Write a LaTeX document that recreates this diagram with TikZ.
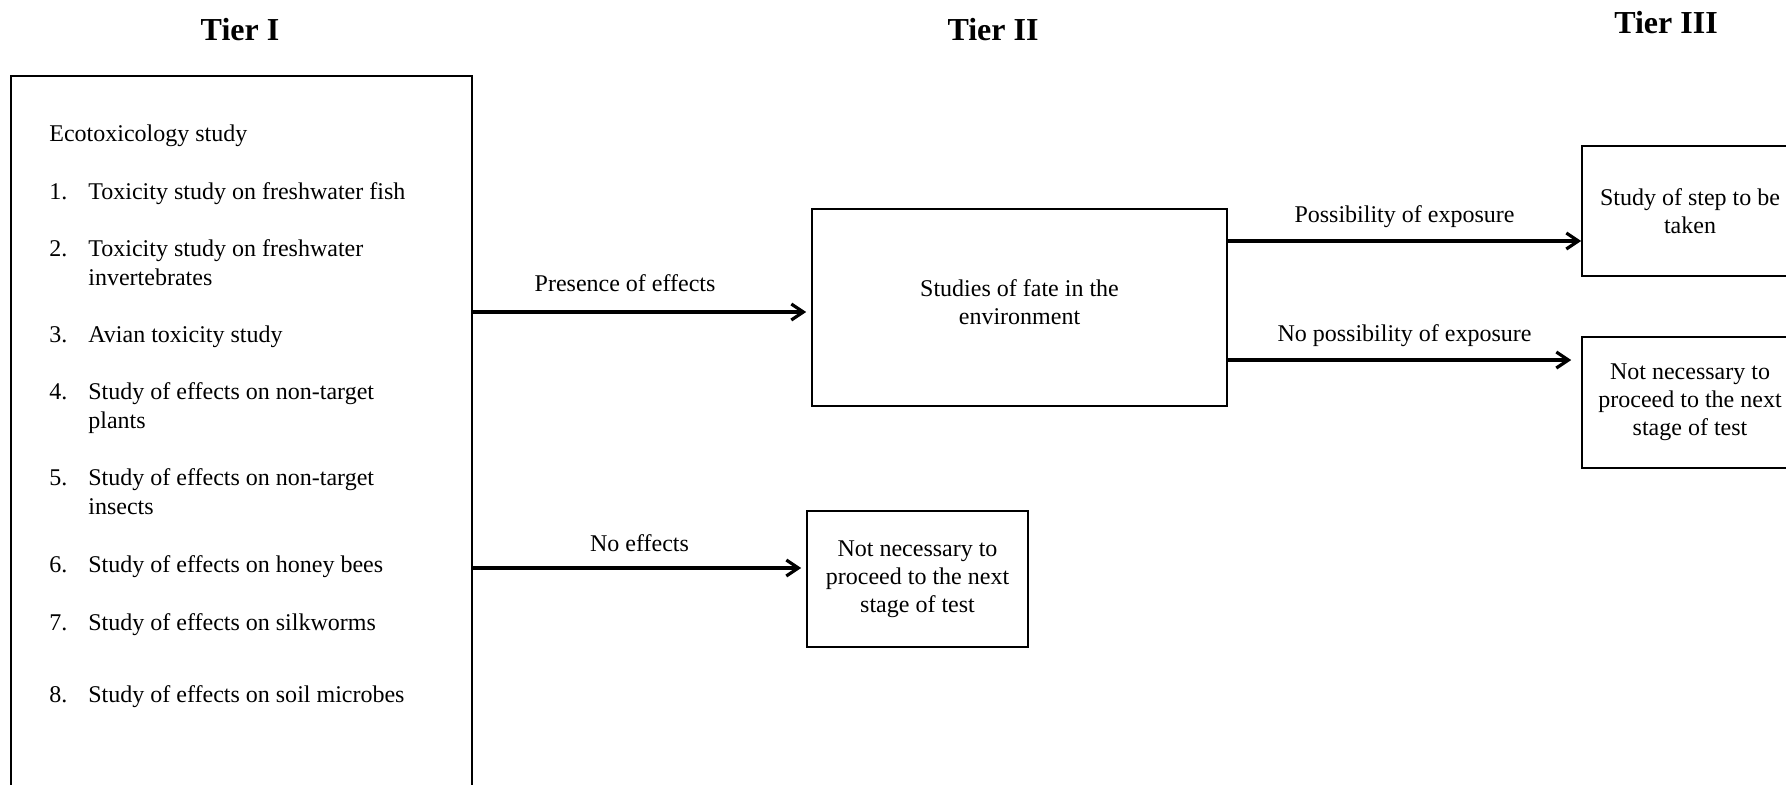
\documentclass[tikz,border=0pt]{standalone}
\usepackage{fontspec}
\setmainfont{Liberation Serif}
\usetikzlibrary{arrows.meta, positioning}

\begin{document}
\begin{tikzpicture}[
  x=0.5pt, y=-0.5pt,
  font=\fontsize{12}{14}\selectfont,
  tier/.style={font=\fontsize{16}{19}\selectfont\bfseries, anchor=base, inner sep=0pt},
  stage/.style={draw, line width=0.8pt, align=center, inner sep=0pt},
  entry/.style={anchor=base west, align=left, inner sep=0pt,
                font=\fontsize{12}{14.5}\selectfont},
  arr/.style={-{Straight Barb[length=6pt, width=8pt]}, line width=1.6pt},
  lbl/.style={above=8.5pt, inner sep=0pt, text depth=0pt}
]
\useasboundingbox (0,0) rectangle (1786,784);

%% ---- Tier headings ----
\node[tier] (tierone)   at (240,40)  {Tier I};
\node[tier] (tiertwo)   at (993,40)  {Tier II};
\node[tier] (tierthree) at (1666,33) {Tier III};

%% ---- Tier I: ecotoxicology tests ----
% two-line entries sit on the baseline of their last line
\node[stage, minimum width=230.5pt, minimum height=372pt] (eco) at (241.5,448) {};
\node[entry] (ecohead) at (49,141) {Ecotoxicology study};
\node[entry] (n1) at (49,199) {1.};
\node[entry] (s1) at (88,199) {Toxicity study on freshwater fish};
\node[entry] (n2) at (49,256) {2.};
\node[entry] (s2) at (88,285) {Toxicity study on freshwater\\invertebrates};
\node[entry] (n3) at (49,342) {3.};
\node[entry] (s3) at (88,342) {Avian toxicity study};
\node[entry] (n4) at (49,399) {4.};
\node[entry] (s4) at (88,428) {Study of effects on non-target\\plants};
\node[entry] (n5) at (49,485) {5.};
\node[entry] (s5) at (88,514) {Study of effects on non-target\\insects};
\node[entry] (n6) at (49,572) {6.};
\node[entry] (s6) at (88,572) {Study of effects on honey bees};
\node[entry] (n7) at (49,630) {7.};
\node[entry] (s7) at (88,630) {Study of effects on silkworms};
\node[entry] (n8) at (49,702) {8.};
\node[entry] (s8) at (88,702) {Study of effects on soil microbes};

%% ---- Tier II ----
\node[stage, text depth=5pt, minimum width=207.5pt, minimum height=98.5pt] (fate)
  at (1019.5,307.5) {Studies of fate in the\\environment};
\node[stage, minimum width=110.5pt, minimum height=68pt] (stoptwo) at (917.5,579)
  {Not necessary to\\proceed to the next\\stage of test};

\coordinate (presrow) at (0,312);
\coordinate (noeffrow) at (0,568);
\draw[arr, shorten >=2.5pt] (eco.east |- presrow)
  -- node[lbl, above=9.5pt, pos=0.45] {Presence of effects} (fate.west |- presrow);
\draw[arr, shorten >=2.5pt] (eco.east |- noeffrow)
  -- node[lbl, above=7.5pt] {No effects} (stoptwo.west |- noeffrow);

%% ---- Tier III ----
\node[stage, minimum width=108pt, minimum height=65pt] (step) at (1690,211)
  {Study of step to be\\taken};
\node[stage, minimum width=108pt, minimum height=65.5pt] (stopthree) at (1690,402.5)
  {Not necessary to\\proceed to the next\\stage of test};

\coordinate (exprow) at (0,241);
\coordinate (noexprow) at (0,360);
\draw[arr] (fate.east |- exprow)
  -- node[lbl] {Possibility of exposure} (step.west |- exprow);
\draw[arr, shorten >=5pt] (fate.east |- noexprow)
  -- node[lbl] {No possibility of exposure} (stopthree.west |- noexprow);

\end{tikzpicture}
\end{document}
